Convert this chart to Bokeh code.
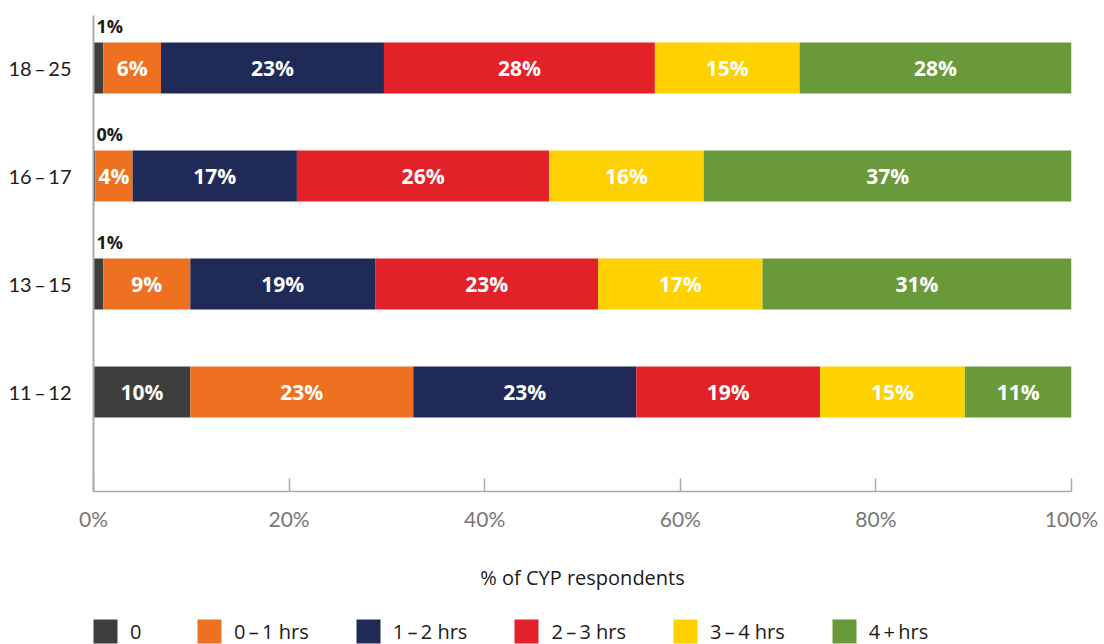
import numpy as np
from bokeh.plotting import figure
from bokeh.layouts import column
from bokeh.models import (ColumnDataSource, Range1d, FixedTicker, Legend, LegendItem,
                          PrintfTickFormatter)
from bokeh.core.properties import value
from bokeh.embed import file_html
from bokeh.resources import INLINE

# ---------------- data ----------------
age_groups = ["11\u2009\u2013\u200912", "13\u2009\u2013\u200915", "16\u2009\u2013\u200917", "18\u2009\u2013\u200925"]
segments = ["0", "0\u2009\u2013\u20091 hrs", "1\u2009\u2013\u20092 hrs", "2\u2009\u2013\u20093 hrs",
            "3\u2009\u2013\u20094 hrs", "4\u2009+\u2009hrs"]
colors = ["#3d3d3b", "#ee7122", "#1f2a57", "#e32128", "#fed100", "#6a993b"]

# segment widths (% of CYP respondents), order: 11-12, 13-15, 16-17, 18-25
hrs_0 = [9.9, 1.0, 0.2, 1.0]
hrs_0_1 = [22.8, 8.9, 3.8, 5.9]
hrs_1_2 = [22.8, 18.9, 16.8, 22.8]
hrs_2_3 = [18.8, 22.8, 25.8, 27.7]
hrs_3_4 = [14.8, 16.8, 15.8, 14.8]
hrs_4p = [10.9, 31.6, 37.6, 27.8]

# printed labels
lab_0 = [10, 1, 0, 1]
lab_0_1 = [23, 9, 4, 6]
lab_1_2 = [23, 19, 17, 23]
lab_2_3 = [19, 23, 26, 28]
lab_3_4 = [15, 17, 16, 15]
lab_4p = [11, 31, 37, 28]

x_ticks = [0, 20, 40, 60, 80, 100]
x_title = "% of CYP respondents"

# ---------------- build ----------------
series = [hrs_0, hrs_0_1, hrs_1_2, hrs_2_3, hrs_3_4, hrs_4p]
labels = [lab_0, lab_0_1, lab_1_2, lab_2_3, lab_3_4, lab_4p]
fields = ["s%d" % k for k in range(len(series))]
ypos = list(range(len(age_groups)))

data = {"y": ypos}
for f, s in zip(fields, series):
    data[f] = s
src = ColumnDataSource(data)

p = figure(width=1100, height=604, output_backend="svg", toolbar_location=None,
           x_range=Range1d(0, 100), y_range=Range1d(-0.92, 3.486),
           min_border_left=93, min_border_right=29, min_border_top=15, min_border_bottom=113)
p.outline_line_color = None
p.xgrid.visible = False
p.ygrid.visible = False
p.background_fill_color = "white"
p.border_fill_color = "white"

BAR_H = 0.472
rends = p.hbar_stack(fields, y="y", height=BAR_H, color=colors, source=src, line_color=None)

# labels
in_x, in_y, in_t = [], [], []
up_x, up_y, up_t = [], [], []
arr = np.array(series)
starts = np.vstack([np.zeros(arr.shape[1]), np.cumsum(arr, axis=0)[:-1]])
for j in range(arr.shape[0]):
    for i in range(arr.shape[1]):
        txt = "%d%%" % labels[j][i]
        if labels[j][i] < 3:
            up_x.append(starts[j, i]); up_y.append(ypos[i] + 0.39); up_t.append(txt)
        else:
            in_x.append(starts[j, i] + arr[j, i] / 2); in_y.append(ypos[i]); in_t.append(txt)

p.text(x=in_x, y=in_y, text=in_t, text_color="white", text_font=value("Open Sans"),
       text_font_style="bold", text_font_size="21px", text_align="center", text_baseline="middle")
p.text(x=up_x, y=up_y, text=up_t, text_color="#1a1a1a", text_font=value("Open Sans"),
       text_font_style="bold", text_font_size="18px", text_align="left", text_baseline="middle",
       x_offset=3)

# axes
axc = "#aaaaaa"
xa = p.xaxis[0]
xa.ticker = FixedTicker(ticks=x_ticks)
xa.formatter = PrintfTickFormatter(format="%d%%")
xa.axis_line_color = axc
xa.axis_line_width = 1.5
xa.major_tick_line_color = axc
xa.major_tick_line_width = 1.5
xa.major_tick_in = 13
xa.major_tick_out = 0
xa.minor_tick_line_color = None
xa.major_label_text_font = "Lato"
xa.major_label_text_font_size = "21px"
xa.major_label_text_color = "#777777"
xa.major_label_standoff = 14
xa.axis_label = x_title
xa.axis_label_text_font = "Open Sans"
xa.axis_label_text_font_style = "normal"
xa.axis_label_text_font_size = "20px"
xa.axis_label_text_color = "#1a1a1a"
xa.axis_label_standoff = 30

ya = p.yaxis[0]
ya.ticker = FixedTicker(ticks=ypos)
ya.major_label_overrides = {y: g for y, g in zip(ypos, age_groups)}
ya.axis_line_color = axc
ya.axis_line_width = 2
ya.major_tick_line_color = None
ya.minor_tick_line_color = None
ya.major_label_text_font = "Lato"
ya.major_label_text_font_size = "20px"
ya.major_label_text_color = "#1a1a1a"
ya.major_label_standoff = 16

# ---------------- legend strip ----------------
lg = figure(width=1100, height=40, output_backend="svg", toolbar_location=None,
            x_range=Range1d(0, 1), y_range=Range1d(0, 1),
            min_border_left=0, min_border_right=0, min_border_top=0, min_border_bottom=0)
lg.axis.visible = False
lg.grid.visible = False
lg.outline_line_color = None
lg.background_fill_alpha = 0
# swatch renderers kept far outside the visible range; only their legend glyphs show
lg_rends = [lg.hbar(y=[-50], left=[-10], right=[-5], height=1, color=c, line_color=None)
            for c in colors]
legend = Legend(items=[LegendItem(label=s, renderers=[r]) for s, r in zip(segments, lg_rends)],
                orientation="horizontal", location=(-3, -2),
                glyph_width=30, glyph_height=30, label_standoff=10, spacing=44,
                padding=0, margin=0, border_line_color=None, background_fill_alpha=0,
                label_text_font="Open Sans", label_text_font_size="20px",
                label_text_color="#1a1a1a", label_height=30)
lg.add_layout(legend)

layout = column(p, lg, spacing=0)
open("out.html", "w").write(file_html(layout, INLINE))
